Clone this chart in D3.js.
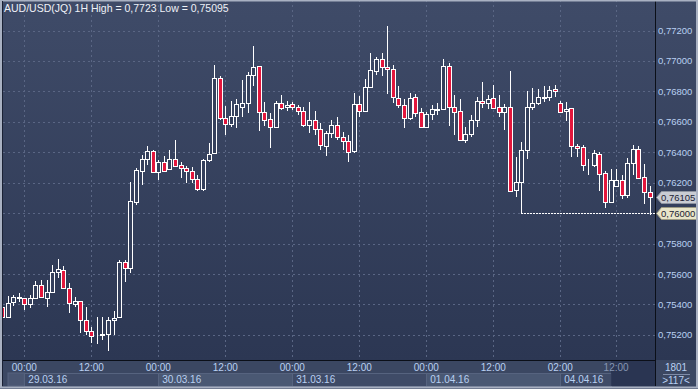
<!DOCTYPE html>
<html>
<head>
<meta charset="utf-8">
<script src="https://cdn.jsdelivr.net/npm/d3@7"></script>
<style>
  html, body { margin: 0; padding: 0; background: #2e3954; }
  svg { display: block; font-family: "Liberation Sans", Arial, sans-serif; }
</style>
</head>
<body>
<div id="chart"></div>
<script>
// hourly AUD/USD candles
var opens = [0.75385,0.75319,0.75414,0.75447,0.75440,0.75401,0.75440,0.75526,0.75440,0.75484,
  0.75611,0.75626,0.75506,0.75403,0.75420,0.75298,0.75227,0.75192,0.75197,0.75206,
  0.75296,0.75315,0.75677,0.75641,0.76075,0.76279,0.76353,0.76408,0.76272,0.76334,
  0.76288,0.76353,0.76314,0.76296,0.76277,0.76227,0.76156,0.76346,0.76393,0.76886,
  0.76623,0.76583,0.76640,0.76699,0.76725,0.76907,0.76966,0.76666,0.76616,0.76564,
  0.76721,0.76697,0.76715,0.76695,0.76669,0.76577,0.76612,0.76551,0.76439,0.76524,
  0.76577,0.76502,0.76476,0.76410,0.76717,0.76673,0.76826,0.76936,0.77010,0.76958,
  0.76945,0.76754,0.76708,0.76627,0.76761,0.76662,0.76568,0.76649,0.76682,0.76682,
  0.76968,0.76695,0.76673,0.76480,0.76518,0.76612,0.76736,0.76721,0.76754,0.76699,
  0.76666,0.76695,0.76154,0.76206,0.76413,0.76699,0.76721,0.76754,0.76761,0.76815,
  0.76721,0.76673,0.76688,0.76441,0.76432,0.76323,0.76316,0.76386,0.76261,0.76075,
  0.76180,0.76217,0.76119,0.76331,0.76421,0.76235,0.76141];
var highs = [0.75403,0.75455,0.75462,0.75473,0.75444,0.75462,0.75556,0.75560,0.75560,0.75659,
  0.75698,0.75652,0.75543,0.75451,0.75422,0.75385,0.75254,0.75319,0.75319,0.75315,
  0.75359,0.75692,0.75692,0.76206,0.76294,0.76382,0.76441,0.76415,0.76349,0.76377,
  0.76415,0.76480,0.76338,0.76309,0.76301,0.76250,0.76355,0.76459,0.76973,0.76901,
  0.76704,0.76736,0.76750,0.76874,0.76925,0.77098,0.76970,0.76732,0.76656,0.76736,
  0.76776,0.76738,0.76732,0.76710,0.76699,0.76732,0.76671,0.76590,0.76539,0.76612,
  0.76629,0.76533,0.76513,0.76787,0.76770,0.76879,0.77050,0.77027,0.77050,0.77230,
  0.76973,0.76835,0.76752,0.76791,0.76782,0.76688,0.76666,0.76710,0.76721,0.77010,
  0.76984,0.76776,0.76748,0.76568,0.76644,0.76765,0.76863,0.76776,0.76842,0.76776,
  0.76715,0.76934,0.76367,0.76465,0.76802,0.76824,0.76815,0.76835,0.76837,0.76842,
  0.76736,0.76732,0.76690,0.76454,0.76447,0.76353,0.76415,0.76400,0.76277,0.76288,
  0.76290,0.76250,0.76364,0.76447,0.76443,0.76323,0.76180];
var lows = [0.75304,0.75311,0.75392,0.75418,0.75363,0.75378,0.75437,0.75440,0.75385,0.75482,
  0.75572,0.75504,0.75346,0.75385,0.75210,0.75199,0.75145,0.75140,0.75166,0.75095,
  0.75199,0.75313,0.75549,0.75608,0.76053,0.76187,0.76319,0.76265,0.76217,0.76277,
  0.76286,0.76309,0.76234,0.76200,0.76200,0.76143,0.76147,0.76334,0.76390,0.76612,
  0.76513,0.76568,0.76561,0.76633,0.76660,0.76837,0.76541,0.76574,0.76426,0.76557,
  0.76677,0.76671,0.76677,0.76644,0.76568,0.76524,0.76513,0.76415,0.76377,0.76491,
  0.76480,0.76415,0.76338,0.76397,0.76633,0.76666,0.76820,0.76907,0.76901,0.76782,
  0.76725,0.76688,0.76561,0.76612,0.76633,0.76566,0.76557,0.76612,0.76644,0.76677,
  0.76572,0.76513,0.76476,0.76459,0.76502,0.76568,0.76688,0.76682,0.76688,0.76633,
  0.76546,0.76145,0.76104,0.76000,0.76353,0.76677,0.76710,0.76732,0.76738,0.76765,
  0.76660,0.76607,0.76367,0.76370,0.76279,0.76250,0.76305,0.76147,0.76035,0.76071,
  0.76169,0.76093,0.76097,0.76250,0.76224,0.76058,0.75985];
var closes = [0.75315,0.75407,0.75447,0.75445,0.75401,0.75440,0.75526,0.75447,0.75484,0.75611,
  0.75631,0.75506,0.75407,0.75420,0.75298,0.75227,0.75192,0.75190,0.75206,0.75298,
  0.75309,0.75677,0.75637,0.76079,0.76283,0.76353,0.76408,0.76268,0.76334,0.76279,
  0.76353,0.76311,0.76294,0.76280,0.76227,0.76157,0.76346,0.76388,0.76886,0.76623,
  0.76583,0.76640,0.76715,0.76721,0.76907,0.76960,0.76666,0.76610,0.76564,0.76721,
  0.76688,0.76708,0.76697,0.76671,0.76577,0.76612,0.76551,0.76445,0.76524,0.76577,
  0.76502,0.76476,0.76403,0.76717,0.76673,0.76826,0.76940,0.77010,0.76958,0.76945,
  0.76761,0.76708,0.76627,0.76754,0.76656,0.76568,0.76649,0.76682,0.76680,0.76968,
  0.76695,0.76666,0.76480,0.76518,0.76612,0.76736,0.76721,0.76750,0.76692,0.76666,
  0.76695,0.76147,0.76202,0.76413,0.76695,0.76721,0.76761,0.76763,0.76807,0.76802,
  0.76662,0.76684,0.76441,0.76426,0.76316,0.76321,0.76393,0.76255,0.76071,0.76217,
  0.76217,0.76119,0.76327,0.76421,0.76229,0.76137,0.76105];

var priceTicks = [0.752, 0.754, 0.756, 0.758, 0.760, 0.762, 0.764, 0.766, 0.768, 0.770, 0.772];
var timeTickIdx = [4, 16, 28, 40, 52, 64, 76, 88, 100, 110];
var timeTickLabels = ["00:00", "12:00", "00:00", "12:00", "00:00", "12:00", "00:00", "12:00", "02:00", "12:00"];
var dateIdx = [4, 28, 52, 76, 100];
var dateLabels = ["29.03.16", "30.03.16", "31.03.16", "01.04.16", "04.04.16"];
var lowMarkIdx = 93;
var lowMark = 0.76000;

var W = 698, H = 389;
var plotR = 655, plotB = 360;

var data = opens.map(function(o, i) {
  return {i: i, open: o, high: highs[i], low: lows[i], close: closes[i]};
});

var fmt = function(v) { return d3.format(".5f")(v).replace(".", ","); };

var x = d3.scaleLinear().domain([0, opens.length - 1]).range([2, 649.6]);
var y = d3.scaleLinear().domain([0.750351, 0.774004]).range([plotB, 0]);

var svg = d3.select("#chart").append("svg")
  .attr("width", W)
  .attr("height", H);

var defs = svg.append("defs");
var grad = defs.append("linearGradient")
  .attr("id", "bg").attr("x1", 0).attr("y1", 0).attr("x2", 0).attr("y2", 1);
grad.append("stop").attr("offset", "0%").attr("stop-color", "#3f4b68");
grad.append("stop").attr("offset", "100%").attr("stop-color", "#2c3753");

defs.append("clipPath").attr("id", "plotclip")
  .append("rect").attr("x", 3).attr("y", 0).attr("width", plotR - 3).attr("height", plotB);

// background
svg.append("rect").attr("width", W).attr("height", H).attr("fill", "#2e3954");
svg.append("rect").attr("x", 0).attr("y", 0).attr("width", W).attr("height", plotB)
  .attr("fill", "url(#bg)");

// grid
var grid = svg.append("g").attr("clip-path", "url(#plotclip)")
  .attr("stroke", "#5a6684").attr("stroke-dasharray", "2,3").attr("shape-rendering", "crispEdges");
grid.selectAll(".hg").data(priceTicks).enter().append("line")
  .attr("x1", 3).attr("x2", plotR)
  .attr("y1", function(d) { return Math.round(y(d)) + 0.5; })
  .attr("y2", function(d) { return Math.round(y(d)) + 0.5; });
grid.selectAll(".vg").data(timeTickIdx).enter().append("line")
  .attr("y1", 0).attr("y2", plotB)
  .attr("x1", function(d) { return Math.round(x(d)) + 0.5; })
  .attr("x2", function(d) { return Math.round(x(d)) + 0.5; });

// candles
var candles = svg.append("g").attr("clip-path", "url(#plotclip)")
  .attr("shape-rendering", "crispEdges");

var c = candles.selectAll(".candle").data(data).enter().append("g").attr("class", "candle");

c.append("line")
  .attr("x1", function(d) { return Math.round(x(d.i)) + 0.5; })
  .attr("x2", function(d) { return Math.round(x(d.i)) + 0.5; })
  .attr("y1", function(d) { return Math.round(y(d.high)); })
  .attr("y2", function(d) { return Math.round(y(d.low)); })
  .attr("stroke", "#ffffff");

c.append("rect")
  .attr("x", function(d) { return Math.round(x(d.i)) - 1.5; })
  .attr("width", 4)
  .attr("y", function(d) { return Math.round(y(Math.max(d.open, d.close))) + 0.5; })
  .attr("height", function(d) {
    return Math.max(0, Math.round(y(Math.min(d.open, d.close))) - Math.round(y(Math.max(d.open, d.close))));
  })
  .attr("fill", function(d) { return d.close < d.open ? "#e3173d" : "#35405c"; })
  .attr("stroke", "#ffffff");

// low marker
svg.append("line")
  .attr("x1", Math.round(x(lowMarkIdx))).attr("x2", plotR)
  .attr("y1", Math.round(y(lowMark)) + 0.5).attr("y2", Math.round(y(lowMark)) + 0.5)
  .attr("stroke", "#ffffff").attr("stroke-dasharray", "2,1")
  .attr("shape-rendering", "crispEdges");

// axis area
svg.append("rect").attr("x", 0).attr("y", plotB).attr("width", W).attr("height", H - plotB)
  .attr("fill", "#3b4762");

var dateBoxes = svg.append("g");
dateBoxes.append("rect").attr("x", 8).attr("y", 373).attr("width", x(dateIdx[0]) - 8).attr("height", 13)
  .attr("fill", "#4a5672").attr("stroke", "#56637f");
dateBoxes.selectAll(".db").data(dateIdx).enter().append("rect")
  .attr("x", function(d) { return Math.round(x(d)) + 0.5; })
  .attr("y", 373.5)
  .attr("width", function(d, i) {
    var end = i < dateIdx.length - 1 ? x(dateIdx[i + 1]) : 611;
    return Math.round(end) - Math.round(x(d));
  })
  .attr("height", 13)
  .attr("fill", function(d, i) { return i % 2 ? "#4a5873" : "#3f4b67"; })
  .attr("stroke", "#56637f");

svg.append("rect").attr("x", 611).attr("y", 361).attr("width", plotR - 611).attr("height", 25)
  .attr("fill", "#283350").attr("opacity", 0.85);

var axisText = "#b9d0f2";

svg.append("g").selectAll("text").data(timeTickIdx).enter().append("text")
  .attr("x", function(d) { return x(d); })
  .attr("y", 371)
  .attr("text-anchor", "middle")
  .attr("font-size", "10px")
  .attr("fill", function(d, i) { return i === timeTickIdx.length - 1 ? "#8796b3" : axisText; })
  .text(function(d, i) { return timeTickLabels[i]; });

svg.append("g").selectAll("text").data(dateIdx).enter().append("text")
  .attr("x", function(d) { return x(d) + 4; })
  .attr("y", 383)
  .attr("font-size", "10px")
  .attr("fill", axisText)
  .text(function(d, i) { return dateLabels[i]; });

// price tags
var tags = [
  {v: closes[closes.length - 1], fill: "#c9ccd3", stroke: "#8e94a0"},
  {v: lowMark, fill: "#e8e5c9", stroke: "#9c9a82"}
];

// right price axis (a tag hides the tick label under it)
var freeTicks = priceTicks.filter(function(p) {
  return !tags.some(function(t) { return Math.abs(y(t.v) - y(p)) < 11; });
});
svg.append("g").selectAll("text").data(freeTicks).enter().append("text")
  .attr("x", 658)
  .attr("y", function(d) { return y(d) + 3.5; })
  .attr("font-size", "9.5px")
  .attr("fill", axisText)
  .text(function(d) { return fmt(d); });

var tg = svg.append("g").selectAll("g").data(tags).enter().append("g")
  .attr("transform", function(d) { return "translate(0," + Math.round(y(d.v)) + ")"; });
tg.append("path")
  .attr("d", "M656.5,0.5 L661.5,-5.5 L696.5,-5.5 L696.5,6.5 L661.5,6.5 Z")
  .attr("fill", function(d) { return d.fill; })
  .attr("stroke", function(d) { return d.stroke; });
tg.append("text")
  .attr("x", 661).attr("y", 4)
  .attr("font-size", "9.5px")
  .attr("fill", "#1c2233")
  .text(function(d) { return fmt(d.v); });

// axis lines
svg.append("line").attr("x1", plotR + 0.5).attr("x2", plotR + 0.5).attr("y1", 0).attr("y2", 386)
  .attr("stroke", "#0b0f18");
svg.append("line").attr("x1", 0).attr("x2", plotR).attr("y1", plotB + 0.5).attr("y2", plotB + 0.5)
  .attr("stroke", "#0b0f18");

// corner info
svg.append("text").attr("x", 676).attr("y", 371).attr("text-anchor", "middle")
  .attr("font-size", "10px").attr("fill", axisText).text("1801");
svg.append("line").attr("x1", 663).attr("x2", 690).attr("y1", 374.5).attr("y2", 374.5)
  .attr("stroke", "#7f8ca8");
svg.append("text").attr("x", 676).attr("y", 384).attr("text-anchor", "middle")
  .attr("font-size", "10px").attr("fill", axisText).text(">117<");

// frame
svg.append("rect").attr("x", 1).attr("y", 0.5).attr("width", W - 2).attr("height", H - 2)
  .attr("fill", "none").attr("stroke", "#a9b1c2").attr("stroke-width", 2);
svg.append("line").attr("x1", 2.5).attr("x2", 2.5).attr("y1", 1).attr("y2", 386)
  .attr("stroke", "#1a2134");

// title
svg.append("text").attr("x", 4).attr("y", 12)
  .attr("font-size", "10.5px").attr("fill", "#eef1f7")
  .text("AUD/USD(JQ) 1H High = 0,7723 Low = 0,75095");
</script>
</body>
</html>
